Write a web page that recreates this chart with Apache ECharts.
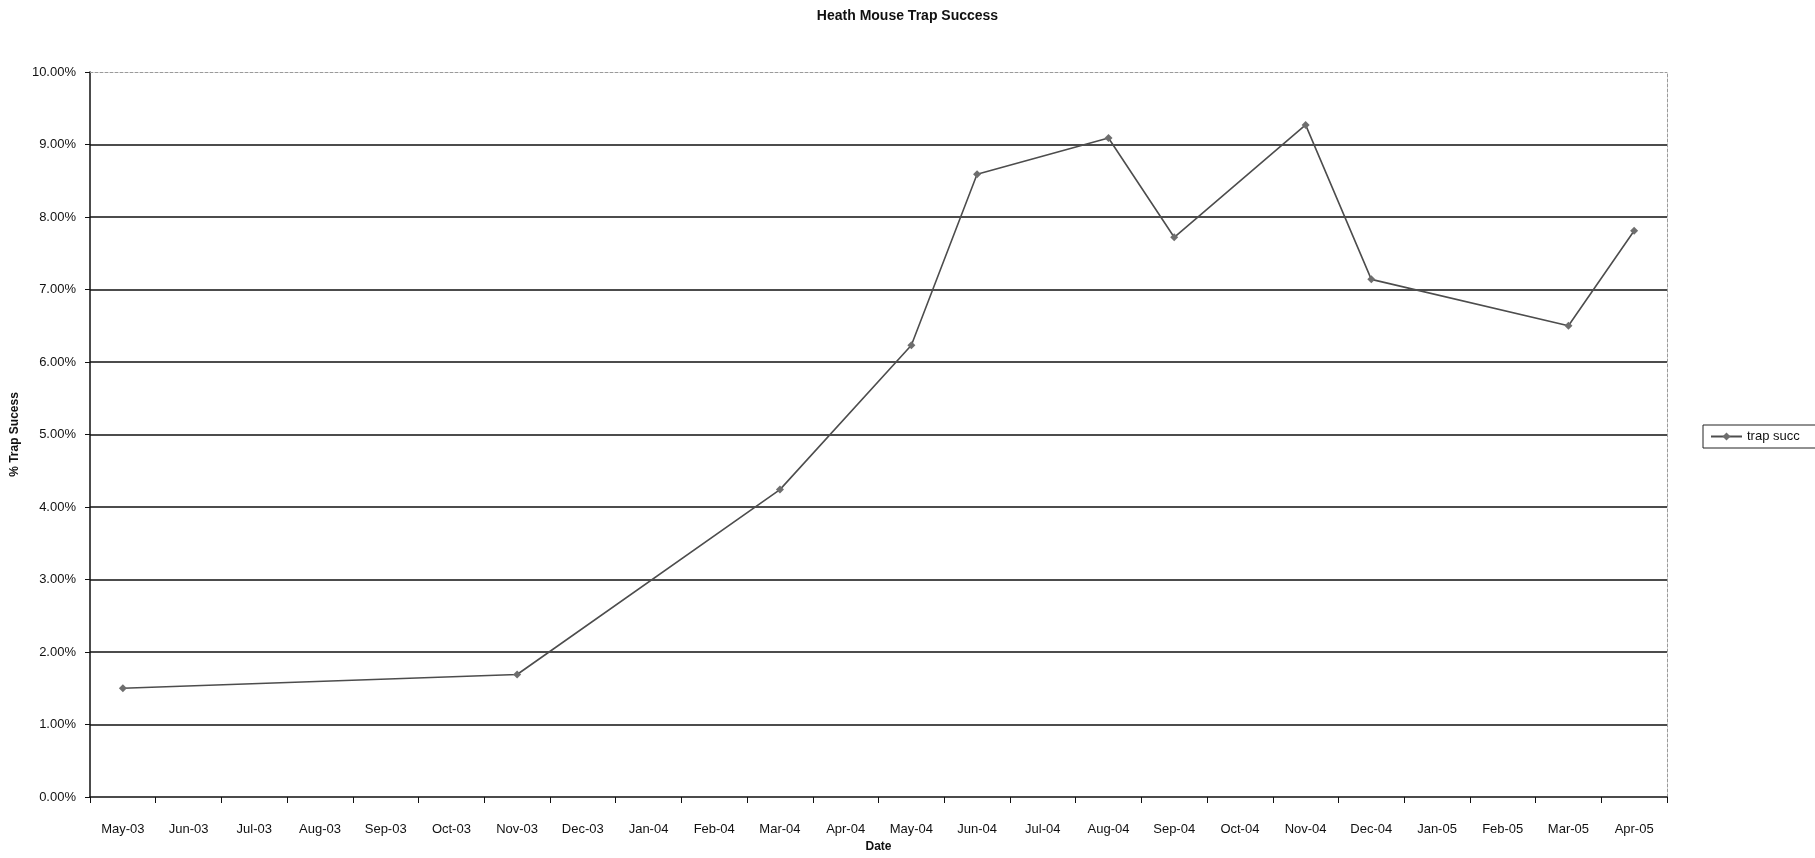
<!DOCTYPE html>
<html>
<head>
<meta charset="utf-8">
<title>Heath Mouse Trap Success</title>
<script src="https://cdn.jsdelivr.net/npm/echarts@6/dist/echarts.min.js"></script>
<style>
  html, body { margin: 0; padding: 0; background: #fff; }
  #chart { width: 1815px; height: 858px; }
</style>
</head>
<body>
<div id="chart"></div>
<script>
// Monthly categories on the date axis
const months = [
  'May-03', 'Jun-03', 'Jul-03', 'Aug-03', 'Sep-03', 'Oct-03', 'Nov-03', 'Dec-03',
  'Jan-04', 'Feb-04', 'Mar-04', 'Apr-04', 'May-04', 'Jun-04', 'Jul-04', 'Aug-04',
  'Sep-04', 'Oct-04', 'Nov-04', 'Dec-04', 'Jan-05', 'Feb-05', 'Mar-05', 'Apr-05'
];

// Trap success in percent; null where no trapping took place that month
const trapSuccess = [
  1.50, null, null, null, null, null, 1.69, null,
  null, null, 4.24, null, 6.23, 8.59, null, 9.09,
  7.72, null, 9.27, 7.14, null, null, 6.50, 7.81
];

// Value axis range, in percent
const yMin = 0;
const yMax = 10;
const yStep = 1;

const FONT = "'Liberation Sans', Arial, sans-serif";

const chart = echarts.init(document.getElementById('chart'), null, { renderer: 'canvas' });

chart.setOption({
  animation: false,
  backgroundColor: '#ffffff',
  textStyle: { fontFamily: FONT, color: '#000' },
  title: {
    text: 'Heath Mouse Trap Success',
    left: 'center',
    top: 4,
    textStyle: { fontFamily: FONT, fontSize: 14, fontWeight: 'bold', color: '#111' }
  },
  legend: {
    left: 1703,
    top: 425,
    orient: 'vertical',
    itemWidth: 31,
    itemHeight: 10,
    itemGap: 0,
    padding: [5, 90, 5, 7],
    borderColor: '#222',
    borderWidth: 1,
    textStyle: { fontFamily: FONT, fontSize: 13, color: '#111' },
    data: ['trap succ']
  },
  grid: {
    left: 90,
    right: 148,
    top: 72,
    bottom: 59,
    containLabel: false
  },
  xAxis: [
    {
      type: 'category',
      data: months,
      boundaryGap: true,
      position: 'bottom',
      name: 'Date',
      nameLocation: 'middle',
      nameGap: 44,
      nameTextStyle: { fontFamily: FONT, fontSize: 12, fontWeight: 'bold', color: '#111' },
      axisLine: { show: true, onZero: false, lineStyle: { color: '#111', width: 1.5 } },
      axisTick: { show: true, inside: false, length: 6, alignWithLabel: false, lineStyle: { color: '#111', width: 1 } },
      axisLabel: { interval: 0, margin: 26, fontFamily: FONT, fontSize: 13, color: '#111' },
      splitLine: { show: false },
      z: 3
    },
    {
      // top border of the plot area
      type: 'category',
      data: months,
      position: 'top',
      axisLine: { show: true, onZero: false, lineStyle: { color: '#9a9a9a', width: 1, type: [3, 2] } },
      axisTick: { show: false },
      axisLabel: { show: false },
      splitLine: { show: false }
    }
  ],
  yAxis: [
    {
      type: 'value',
      min: yMin,
      max: yMax,
      interval: yStep,
      position: 'left',
      name: '% Trap Sucess',
      nameLocation: 'middle',
      nameGap: 63,
      nameTextStyle: { fontFamily: FONT, fontSize: 12, fontWeight: 'bold', color: '#111' },
      axisLine: { show: true, onZero: false, lineStyle: { color: '#111', width: 1.5 } },
      axisTick: { show: true, inside: false, length: 5, lineStyle: { color: '#111', width: 1 } },
      axisLabel: {
        margin: 14,
        fontFamily: FONT,
        fontSize: 13,
        color: '#111',
        formatter: v => v.toFixed(2) + '%'
      },
      splitLine: {
        show: true,
        showMinLine: false,
        showMaxLine: false,
        lineStyle: { color: '#111', width: 1.5 }
      }
    },
    {
      // right border of the plot area
      type: 'value',
      min: yMin,
      max: yMax,
      interval: yStep,
      position: 'right',
      axisLine: { show: true, onZero: false, lineStyle: { color: '#9a9a9a', width: 1, type: [3, 2] } },
      axisTick: { show: false },
      axisLabel: { show: false },
      splitLine: { show: false }
    }
  ],
  series: [
    {
      name: 'trap succ',
      type: 'line',
      data: trapSuccess,
      connectNulls: true,
      symbol: 'diamond',
      symbolSize: 8,
      showAllSymbol: true,
      lineStyle: { color: '#4d4d4d', width: 1.6 },
      itemStyle: { color: '#6e6e6e' },
      emphasis: { disabled: true }
    }
  ]
});
</script>
</body>
</html>
